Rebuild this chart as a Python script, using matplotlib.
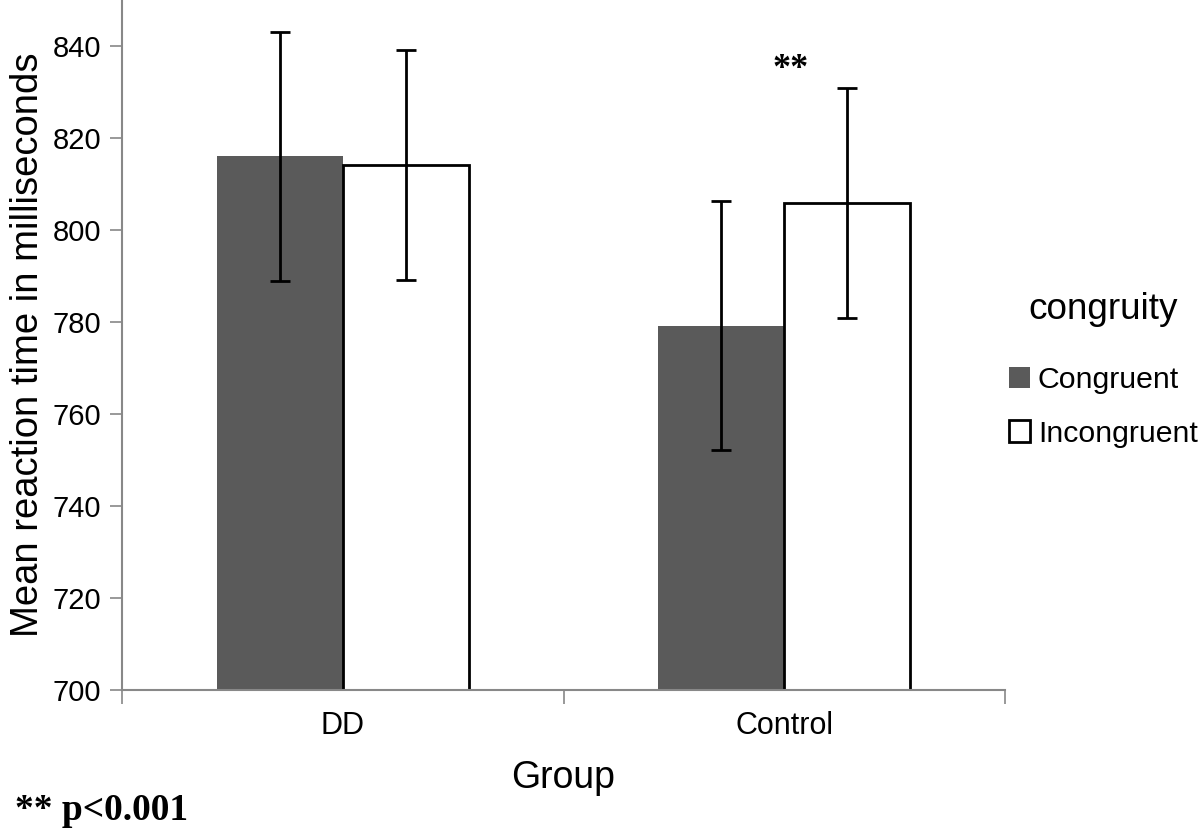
import matplotlib
matplotlib.use("Agg")
import matplotlib.pyplot as plt
import numpy as np

groups = ["DD", "Control"]
conditions = ["Congruent", "Incongruent"]
congruent = [816.0, 779.2]
incongruent = [814.1, 805.9]
congruent_err = [27.0, 27.0]
incongruent_err = [25.0, 25.0]
yticks = [700, 720, 740, 760, 780, 800, 820, 840]

plt.rcParams['font.family'] = ['Liberation Sans', 'DejaVu Sans']

fig = plt.figure(figsize=(12, 8.38), dpi=100)
ax = fig.add_axes([122/1200, 1-690/838, (1005-122)/1200, 690/838])

x = np.arange(len(groups))
w = 0.2857
ax.bar(x - w/2, congruent, w, color='#5a5a5a', edgecolor='#5a5a5a',
       linewidth=0, label=conditions[0], zorder=2)
ax.bar(x + w/2, incongruent, w, color='white', edgecolor='black',
       linewidth=2, label=conditions[1], zorder=2)
ax.errorbar(x - w/2, congruent, yerr=congruent_err, fmt='none', ecolor='black',
            elinewidth=2, capsize=7, capthick=2, zorder=3)
ax.errorbar(x + w/2, incongruent, yerr=incongruent_err, fmt='none', ecolor='black',
            elinewidth=2, capsize=7, capthick=2, zorder=3)

ax.set_ylim(700, 850)
ax.set_xlim(-0.5, 1.5)
ax.set_yticks(yticks)
ax.set_yticklabels([str(t) for t in yticks], fontsize=21)
ax.set_xticks([-0.5, 0.5, 1.5], minor=False)
ax.set_xticklabels([])
ax.set_xticks(x, minor=True)
ax.set_xticklabels(groups, minor=True, fontsize=22)
ax.tick_params(axis='x', which='major', length=10, width=1.2, color='#888888')
ax.tick_params(axis='x', which='minor', length=0, pad=15)
ax.tick_params(axis='y', length=9, width=1.2, color='#888888', pad=6)
for s in ['top', 'right']:
    ax.spines[s].set_visible(False)
for s in ['left', 'bottom']:
    ax.spines[s].set_color('#888888')
    ax.spines[s].set_linewidth(1.5)

ax.set_ylabel("Mean reaction time in milliseconds", fontsize=27.5, labelpad=5)
ax.set_xlabel("Group", fontsize=27, labelpad=14)

ax.text(1.015, 834.8, "**", ha='center', va='center', fontsize=26,
        fontweight='bold', family='Liberation Serif')

leg = ax.legend(title="congruity", loc='center left', bbox_to_anchor=(0.991, 0.464),
                frameon=False, fontsize=21.8, title_fontsize=26.6,
                handlelength=0.7, handleheight=0.7, handletextpad=0.25,
                labelspacing=0.85, borderaxespad=0.0)
leg._legend_box.align = "center"
leg._legend_box.sep = 28

fig.text(15/1200, 1-810/838, "** p<0.001", fontsize=27, fontweight='bold',
         family='Liberation Serif', va='center', ha='left')

fig.savefig("out.png", dpi=100)
